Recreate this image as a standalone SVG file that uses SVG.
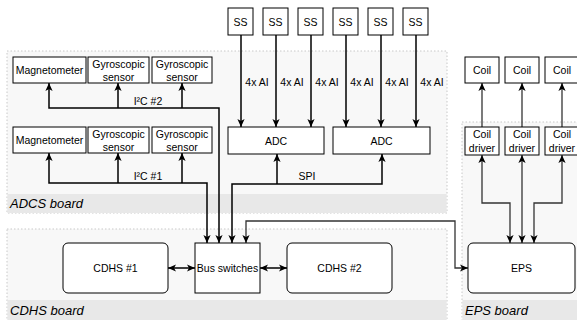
<svg xmlns="http://www.w3.org/2000/svg" width="577" height="320" viewBox="0 0 577 320">
<style>
.board{fill:#f8f8f8;stroke:#c8c8c8;stroke-width:1;stroke-dasharray:1.5 2}
.band{fill:#e8e8e8}
.blabel{font-family:"Liberation Sans",Arial,sans-serif;font-size:13px;font-style:italic;fill:#000}
.box{fill:#fff;stroke:#000;stroke-width:1}
.t{font-family:"Liberation Sans",Arial,sans-serif;font-size:10.5px;fill:#000;text-anchor:middle;dominant-baseline:central}
.c{fill:none;stroke:#000;stroke-width:1.5}
.c2{fill:none;stroke:#333;stroke-width:1.3}
.a{marker-end:url(#ah)}
.b{marker-start:url(#ah);marker-end:url(#ah)}
</style>
<defs>
<marker id="ah" viewBox="0 0 10 10" refX="10" refY="5" markerWidth="8" markerHeight="8" markerUnits="userSpaceOnUse" orient="auto-start-reverse">
<path d="M0,0.5 L10,5 L0,9.5 L2.5,5 Z" fill="#000"/>
</marker>
</defs>

<g id="adcs-board">
<rect class="board" x="7" y="51" width="440" height="162"/>
<rect class="band" x="7.5" y="194" width="439" height="19"/>
<text class="blabel" x="10" y="208">ADCS board</text>
</g>
<g id="cdhs-board">
<rect class="board" x="7" y="229" width="440" height="93"/>
<rect class="band" x="7.5" y="300" width="439" height="20"/>
<text class="blabel" x="10" y="315">CDHS board</text>
</g>
<g id="eps-board">
<rect class="board" x="462" y="122" width="120" height="200"/>
<rect class="band" x="462.5" y="300" width="115" height="20"/>
<text class="blabel" x="465" y="315">EPS board</text>
</g>

<g id="connectors">
<path class="c b" d="M219,243 V108 H49 V83"/>
<path class="c a" d="M118,108 V83"/>
<path class="c a" d="M182,108 V83"/>
<path class="c b" d="M207,243 V183 H49 V153"/>
<path class="c a" d="M118,183 V153"/>
<path class="c a" d="M182,183 V153"/>
<path class="c b" d="M232,243 V184 H382 V154"/>
<path class="c a" d="M277,184 V154"/>
<path class="c a" d="M241,35 V127"/>
<path class="c a" d="M276,35 V127"/>
<path class="c a" d="M311,35 V127"/>
<path class="c a" d="M346,35 V127"/>
<path class="c a" d="M381,35 V127"/>
<path class="c a" d="M416,35 V127"/>
<path class="c2 b" d="M246,243 V221 H455 V268 H468"/>
<path class="c b" d="M168,268 H195"/>
<path class="c b" d="M260,268 H287"/>
<path class="c2 a" d="M482,127 V83"/>
<path class="c2 a" d="M522,127 V83"/>
<path class="c2 a" d="M562,127 V83"/>
<path class="c2 b" d="M482,155 V203 H510 V243"/>
<path class="c2 b" d="M522,155 V243"/>
<path class="c2 b" d="M562,155 V203 H534 V243"/>
<text class="t" x="148" y="101">I²C #2</text>
<text class="t" x="148" y="176">I²C #1</text>
<text class="t" x="307" y="176">SPI</text>
<text class="t" x="257" y="82">4x AI</text>
<text class="t" x="292" y="82">4x AI</text>
<text class="t" x="327" y="82">4x AI</text>
<text class="t" x="362" y="82">4x AI</text>
<text class="t" x="397" y="82">4x AI</text>
<text class="t" x="432" y="82">4x AI</text>
</g>

<g id="mag2"><rect class="box" x="13" y="57" width="73" height="26"/><text class="t" x="49.5" y="70">Magnetometer</text></g>
<g id="gyro2a"><rect class="box" x="88" y="57" width="61" height="26"/><text class="t" x="118.5" y="64">Gyroscopic</text><text class="t" x="118.5" y="77">sensor</text></g>
<g id="gyro2b"><rect class="box" x="152" y="57" width="60" height="26"/><text class="t" x="182" y="64">Gyroscopic</text><text class="t" x="182" y="77">sensor</text></g>
<g id="mag1"><rect class="box" x="13" y="127" width="73" height="26"/><text class="t" x="49.5" y="140">Magnetometer</text></g>
<g id="gyro1a"><rect class="box" x="88" y="127" width="61" height="26"/><text class="t" x="118.5" y="134">Gyroscopic</text><text class="t" x="118.5" y="147">sensor</text></g>
<g id="gyro1b"><rect class="box" x="152" y="127" width="60" height="26"/><text class="t" x="182" y="134">Gyroscopic</text><text class="t" x="182" y="147">sensor</text></g>

<g id="ss1"><rect class="box" x="228" y="8" width="25" height="27"/><text class="t" x="240.5" y="21.5">SS</text></g>
<g id="ss2"><rect class="box" x="263" y="8" width="25" height="27"/><text class="t" x="275.5" y="21.5">SS</text></g>
<g id="ss3"><rect class="box" x="298" y="8" width="25" height="27"/><text class="t" x="310.5" y="21.5">SS</text></g>
<g id="ss4"><rect class="box" x="333" y="8" width="25" height="27"/><text class="t" x="345.5" y="21.5">SS</text></g>
<g id="ss5"><rect class="box" x="368" y="8" width="25" height="27"/><text class="t" x="380.5" y="21.5">SS</text></g>
<g id="ss6"><rect class="box" x="403" y="8" width="25" height="27"/><text class="t" x="415.5" y="21.5">SS</text></g>

<g id="adc1"><rect class="box" x="228" y="127" width="96" height="27"/><text class="t" x="276" y="140.5">ADC</text></g>
<g id="adc2"><rect class="box" x="333" y="127" width="97" height="27"/><text class="t" x="381.5" y="140.5">ADC</text></g>

<g id="cdhs1"><rect class="box" x="63" y="243" width="105" height="50" rx="5"/><text class="t" x="115.5" y="268">CDHS #1</text></g>
<g id="bus"><rect class="box" x="195" y="243" width="65" height="50"/><text class="t" x="227.5" y="268">Bus switches</text></g>
<g id="cdhs2"><rect class="box" x="287" y="243" width="105" height="50" rx="5"/><text class="t" x="339.5" y="268">CDHS #2</text></g>

<g id="coil1"><rect class="box" x="465" y="57" width="34" height="26"/><text class="t" x="482" y="70">Coil</text></g>
<g id="coil2"><rect class="box" x="505" y="57" width="34" height="26"/><text class="t" x="522" y="70">Coil</text></g>
<g id="coil3"><rect class="box" x="545" y="57" width="34" height="26"/><text class="t" x="562" y="70">Coil</text></g>
<g id="drv1"><rect class="box" x="465" y="127" width="34" height="28"/><text class="t" x="482" y="134">Coil</text><text class="t" x="482" y="148">driver</text></g>
<g id="drv2"><rect class="box" x="505" y="127" width="34" height="28"/><text class="t" x="522" y="134">Coil</text><text class="t" x="522" y="148">driver</text></g>
<g id="drv3"><rect class="box" x="545" y="127" width="34" height="28"/><text class="t" x="562" y="134">Coil</text><text class="t" x="562" y="148">driver</text></g>

<g id="eps"><rect class="box" x="468" y="243" width="107" height="50" rx="5"/><text class="t" x="521.5" y="268">EPS</text></g>
</svg>
